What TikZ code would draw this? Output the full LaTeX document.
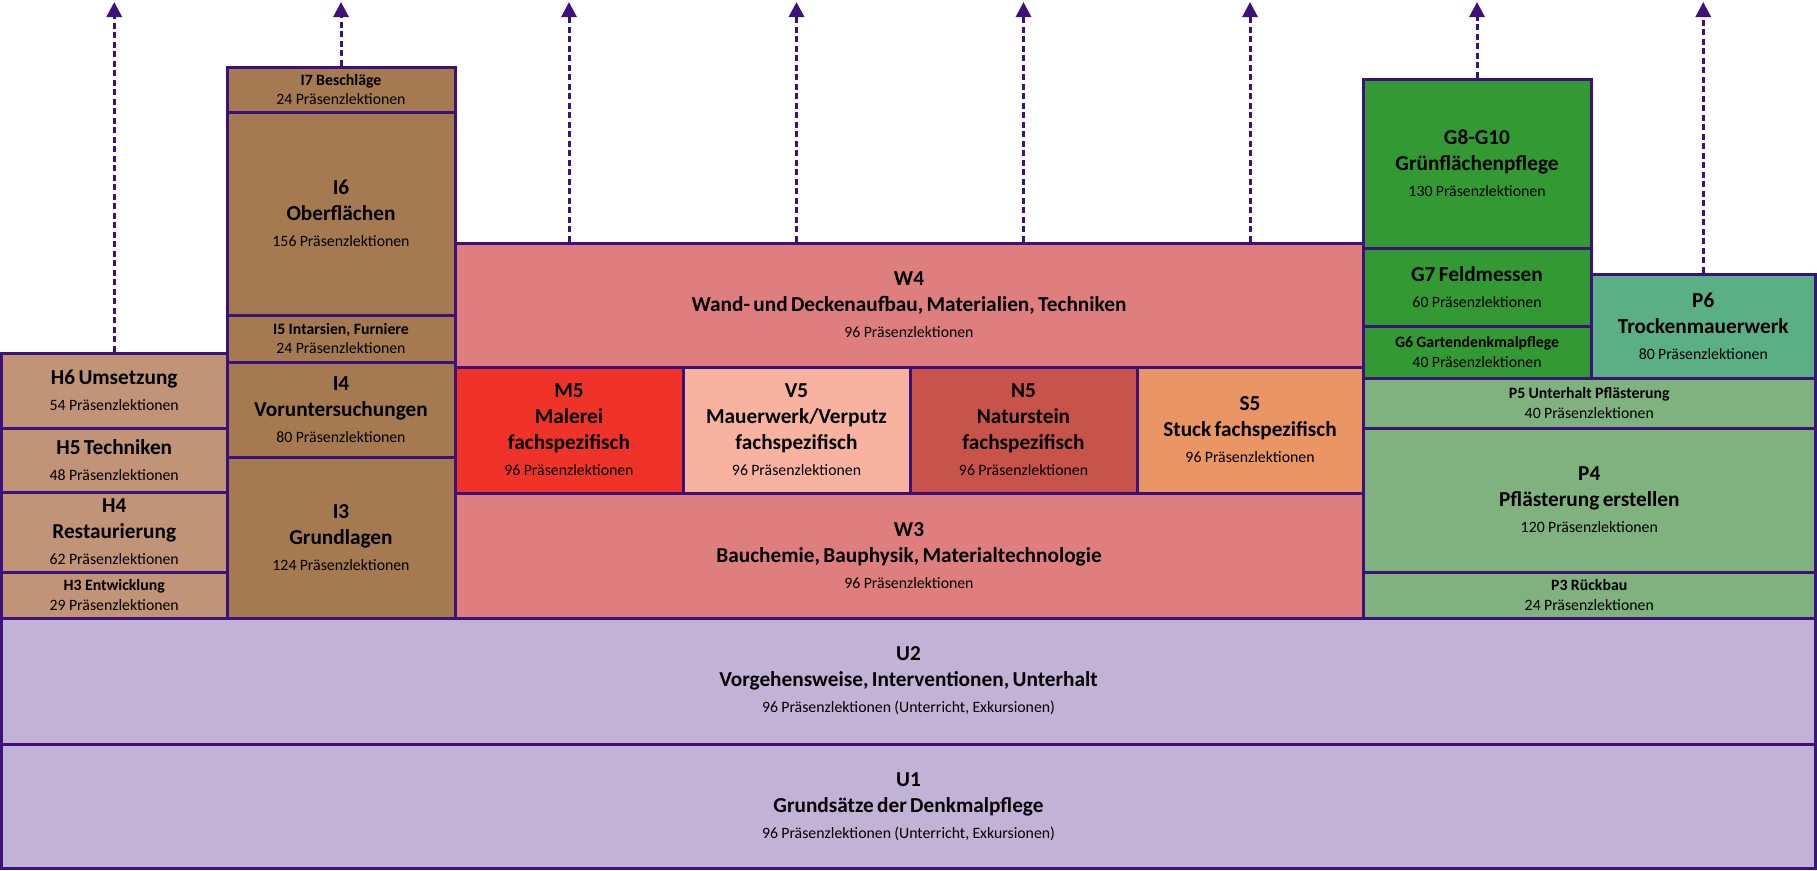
\documentclass[tikz,border=0pt]{standalone}
\usepackage{fontspec}
\setmainfont{Carlito}
\usetikzlibrary{arrows.meta}
\definecolor{bord}{HTML}{3C1279}
\definecolor{colH}{HTML}{C19477}
\definecolor{colI}{HTML}{A57A51}
\definecolor{colW}{HTML}{DF7E7E}
\definecolor{colM}{HTML}{EF3328}
\definecolor{colV}{HTML}{F7B39F}
\definecolor{colN}{HTML}{C8534A}
\definecolor{colS}{HTML}{E99564}
\definecolor{colG}{HTML}{339933}
\definecolor{colPs}{HTML}{5BAF85}
\definecolor{colP}{HTML}{7FB27E}
\definecolor{colU}{HTML}{C2B2D6}
\newcommand\tbig{\fontsize{21.3}{26}\selectfont\bfseries}
\newcommand\tsm{\fontsize{15.8}{26}\selectfont\mdseries}
\newcommand\tsb{\fontsize{15.8}{19.5}\selectfont\bfseries}
\newcommand\tss{\fontsize{15.8}{19.5}\selectfont\mdseries}
\newcommand\bx[7]{%
  \pgfmathsetmacro\bxw{#4-#2}%
  \pgfmathsetmacro\bxh{#5-#3}%
  \pgfmathsetmacro\bxt{#4-#2-12}%
  \node[box, fill=#6, minimum width=\bxw pt, minimum height=\bxh pt, text width=\bxt pt]
    (#1) at ({(#2+#4)/2},{(#3+#5)/2}) {#7\par};}
\begin{document}
\begin{tikzpicture}[x=1pt,y=-1pt,
  box/.style={draw=bord, line width=3pt, inner sep=0pt, align=center, anchor=center},
  arr/.style={draw=bord, line width=3pt, dash pattern=on 6pt off 3.5pt,
    -{Triangle[width=15pt,length=15pt]}}]
\useasboundingbox (0,0) rectangle (1817,870);
% H column
\bx{H6}{1.5}{353}{227}{428}{colH}{\tbig H6 Umsetzung\\\tsm 54 Präsenzlektionen}
\bx{H5}{1.5}{428}{227}{492}{colH}{\tbig H5 Techniken\\\tsm 48 Präsenzlektionen}
\bx{H4}{1.5}{492}{227}{572}{colH}{\tbig H4\\Restaurierung\\\tsm 62 Präsenzlektionen}
\bx{H3}{1.5}{572}{227}{618}{colH}{\tsb H3 Entwicklung\\\tss 29 Präsenzlektionen}
% I column
\bx{I7}{227}{67}{455}{112}{colI}{\tsb I7 Beschläge\\\tss 24 Präsenzlektionen}
\bx{I6}{227}{112}{455}{315}{colI}{\tbig I6\\Oberflächen\\\tsm 156 Präsenzlektionen}
\bx{I5}{227}{315}{455}{362}{colI}{\tsb I5 Intarsien, Furniere\\\tss 24 Präsenzlektionen}
\bx{I4}{227}{362}{455}{457}{colI}{\tbig I4\\Voruntersuchungen\\\tsm 80 Präsenzlektionen}
\bx{I3}{227}{457}{455}{618}{colI}{\tbig I3\\Grundlagen\\\tsm 124 Präsenzlektionen}
% W block
\bx{W4}{455}{243}{1363}{367}{colW}{\tbig W4\\Wand- und Deckenaufbau, Materialien, Techniken\\\tsm 96 Präsenzlektionen}
\bx{M5}{455}{367}{683}{493}{colM}{\tbig M5\\Malerei\\fachspezifisch\\\tsm 96 Präsenzlektionen}
\bx{V5}{683}{367}{910}{493}{colV}{\tbig V5\\Mauerwerk/Verputz\\fachspezifisch\\\tsm 96 Präsenzlektionen}
\bx{N5}{910}{367}{1137}{493}{colN}{\tbig N5\\Naturstein\\fachspezifisch\\\tsm 96 Präsenzlektionen}
\bx{S5}{1137}{367}{1363}{493}{colS}{\tbig S5\\Stuck fachspezifisch\\\tsm 96 Präsenzlektionen}
\bx{W3}{455}{493}{1363}{618}{colW}{\tbig W3\\Bauchemie, Bauphysik, Materialtechnologie\\\tsm 96 Präsenzlektionen}
% G column
\bx{G8}{1363}{79}{1591}{248}{colG}{\tbig G8-G10\\Grünflächenpflege\\\tsm 130 Präsenzlektionen}
\bx{G7}{1363}{248}{1591}{326}{colG}{\tbig G7 Feldmessen\\\tsm 60 Präsenzlektionen}
\bx{G6}{1363}{326}{1591}{378}{colG}{\tsb G6 Gartendenkmalpflege\\\tss 40 Präsenzlektionen}
% P column
\bx{P6}{1591}{274}{1815.5}{378}{colPs}{\tbig P6\\Trockenmauerwerk\\\tsm 80 Präsenzlektionen}
\bx{P5}{1363}{378}{1815.5}{428}{colP}{\tsb P5 Unterhalt Pflästerung\\\tss 40 Präsenzlektionen}
\bx{P4}{1363}{428}{1815.5}{572}{colP}{\tbig P4\\Pflästerung erstellen\\\tsm 120 Präsenzlektionen}
\bx{P3}{1363}{572}{1815.5}{618}{colP}{\tsb P3 Rückbau\\\tss 24 Präsenzlektionen}
% U rows
\bx{U2}{1.5}{618}{1815.5}{744}{colU}{\tbig U2\\Vorgehensweise, Interventionen, Unterhalt\\\tsm 96 Präsenzlektionen (Unterricht, Exkursionen)}
\bx{U1}{1.5}{744}{1815.5}{868.5}{colU}{\tbig U1\\Grundsätze der Denkmalpflege\\\tsm 96 Präsenzlektionen (Unterricht, Exkursionen)}
% arrow ends
\coordinate (tH) at (H6.north |- 0,2);
\coordinate (tI) at (I7.north |- 0,2);
\coordinate (tM) at (M5.north |- 0,2);
\coordinate (tV) at (V5.north |- 0,2);
\coordinate (tN) at (N5.north |- 0,2);
\coordinate (tS) at (S5.north |- 0,2);
\coordinate (tG) at (G8.north |- 0,2);
\coordinate (tP) at (P6.north |- 0,2);
\draw[arr] (H6.north) -- (tH);
\draw[arr] (I7.north) -- (tI);
\draw[arr] (M5 |- W4.north) -- (tM);
\draw[arr] (V5 |- W4.north) -- (tV);
\draw[arr] (N5 |- W4.north) -- (tN);
\draw[arr] (S5 |- W4.north) -- (tS);
\draw[arr] (G8.north) -- (tG);
\draw[arr] (P6.north) -- (tP);
\end{tikzpicture}
\end{document}
